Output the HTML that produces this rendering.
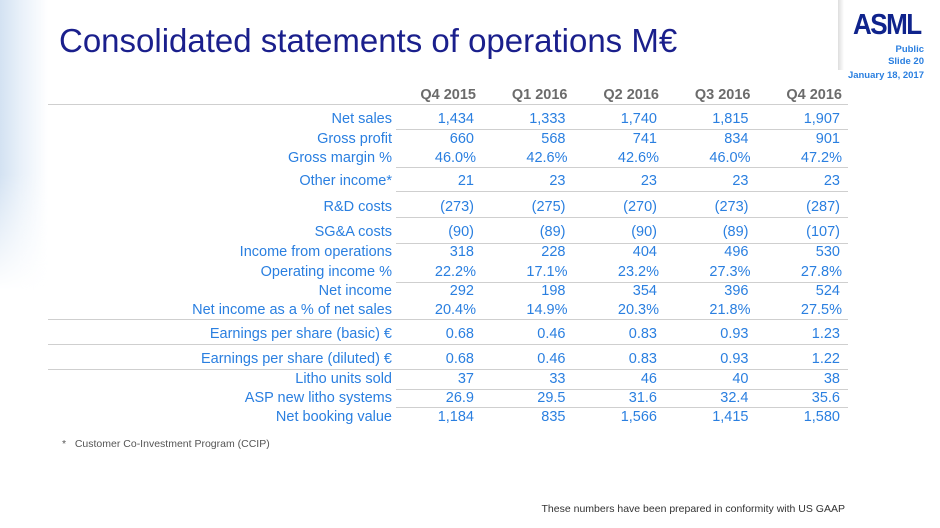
<!DOCTYPE html>
<html><head><meta charset="utf-8"><style>
body{margin:0;width:940px;height:528px;overflow:hidden;background:#fff;font-family:"Liberation Sans",sans-serif;position:relative}
.abs{position:absolute}
.lab{position:absolute;right:548px;color:#2a7fe0;font-size:14.5px;white-space:nowrap;transform:translateY(-50%)}
.val{position:absolute;color:#2a7fe0;font-size:14.5px;white-space:nowrap;transform:translate(-100%,-50%)}
.hdr{position:absolute;color:#6b6b6b;font-size:14.5px;font-weight:bold;transform:translate(-100%,-50%)}
.ln{position:absolute;height:1px;background:#cfcfcf;right:92px}
</style></head><body>
<div class="abs" style="left:0;top:0;width:50px;height:290px;background:linear-gradient(90deg,#d3e2f2 0%,#e8f0f9 40%,rgba(255,255,255,0) 96%);-webkit-mask-image:linear-gradient(180deg,#000 60%,transparent 100%);mask-image:linear-gradient(180deg,#000 60%,transparent 100%)"></div>
<div class="abs" style="left:838px;top:0;width:6px;height:70px;background:linear-gradient(90deg,#ddd,#fff)"></div>
<div class="abs" style="left:59px;top:22px;font-size:33px;color:#1a1f8c">Consolidated statements of operations M€</div>
<div class="abs" style="left:853px;top:9px;font-size:26px;font-weight:bold;color:#0f238c;letter-spacing:-1.5px;transform:scaleY(1.1)">ASML</div>
<div class="abs" style="right:16px;top:44px;font-size:9.5px;font-weight:bold;color:#2a7fe0;text-align:right;line-height:12px">Public<br>Slide 20</div>
<div class="abs" style="right:16px;top:70px;font-size:9.5px;font-weight:bold;color:#2a7fe0">January 18, 2017</div>
<div id="tbl"></div>
<div class="abs" style="left:62px;top:438px;font-size:10.5px;color:#555">*&nbsp;&nbsp;&nbsp;Customer Co-Investment Program (CCIP)</div>
<div class="abs" style="right:95px;top:503px;font-size:10.5px;color:#333">These numbers have been prepared in conformity with US GAAP</div>
<script>
const periods=["Q4 2015","Q1 2016","Q2 2016","Q3 2016","Q4 2016"];
const rowLabels=["Net sales","Gross profit","Gross margin %","Other income*","R&D costs","SG&A costs","Income from operations","Operating income %","Net income","Net income as a % of net sales","Earnings per share (basic) €","Earnings per share (diluted) €","Litho units sold","ASP new litho systems","Net booking value"];
const q42015=["1,434","660","46.0%","21","(273)","(90)","318","22.2%","292","20.4%","0.68","0.68","37","26.9","1,184"];
const q12016=["1,333","568","42.6%","23","(275)","(89)","228","17.1%","198","14.9%","0.46","0.46","33","29.5","835"];
const q22016=["1,740","741","42.6%","23","(270)","(90)","404","23.2%","354","20.3%","0.83","0.83","46","31.6","1,566"];
const q32016=["1,815","834","46.0%","23","(273)","(89)","496","27.3%","396","21.8%","0.93","0.93","40","32.4","1,415"];
const q42016=["1,907","901","47.2%","23","(287)","(107)","530","27.8%","524","27.5%","1.23","1.22","38","35.6","1,580"];
const cols=[q42015,q12016,q22016,q32016,q42016];
const rowY=[119,139,158,181,207,232,252,272,291,310,334,359,379,398,417];
const colX=i=>474+i*91.5;
const lines=[[104,48],[129,396],[167,396],[191,396],[217,396],[243,396],[282,396],[319,48],[344,48],[369,48],[389,396],[407,396]];
const t=document.getElementById('tbl');
periods.forEach((p,i)=>{const d=document.createElement('div');d.className='hdr';d.textContent=p;d.style.left=(colX(i)+2)+'px';d.style.top='95px';


t.appendChild(d);});
rowLabels.forEach((l,r)=>{const d=document.createElement('div');d.className='lab';d.textContent=l;d.style.top=rowY[r]+'px';


t.appendChild(d);
cols.forEach((c,i)=>{const v=document.createElement('div');v.className='val';v.textContent=c[r];v.style.left=(colX(i)+(c[r].includes('%')?2:0))+'px';v.style.top=rowY[r]+'px';


t.appendChild(v);});});
lines.forEach(([y,x])=>{const d=document.createElement('div');d.className='ln';d.style.top=y+'px';d.style.left=x+'px';


t.appendChild(d);});
</script>
</body></html>
